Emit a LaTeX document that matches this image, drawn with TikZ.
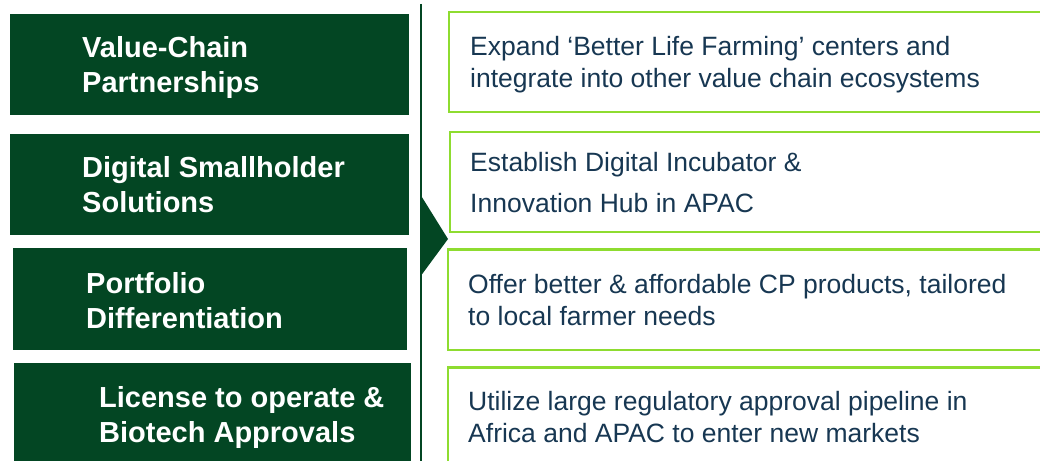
\documentclass[tikz,border=0pt]{standalone}
\usepackage{fontspec}
\setmainfont{Liberation Sans}
\usetikzlibrary{positioning}
\definecolor{darkgreen}{RGB}{3,70,35}
\definecolor{limegreen}{RGB}{142,220,48}
\definecolor{slateblue}{RGB}{23,55,82}

\begin{document}
\begin{tikzpicture}[x=1pt,y=-1pt,
  leftbox/.style={fill=darkgreen},
  rightbox/.style={draw=limegreen,line width=2.6pt},
  lefttext/.style={anchor=base west,align=left,inner sep=0pt,text=white,
    font=\fontsize{29}{35}\selectfont\bfseries},
  righttext/.style={anchor=base west,align=left,inner sep=0pt,text=slateblue,
    font=\fontsize{26.5}{32}\selectfont}]
  \useasboundingbox (0,0) rectangle (1040,460);
  % --- linke Spalte ---
  \fill[leftbox] (10,14) rectangle (409,115);
  \fill[leftbox] (10,134) rectangle (409,235);
  \fill[leftbox] (13,248) rectangle (407,350);
  \fill[leftbox] (14,363) rectangle (411,466);
  \node[lefttext] (l1) at (82,92) {Value-Chain\\Partnerships};
  \node[lefttext] (l2) at (82,212) {Digital Smallholder\\Solutions};
  \node[lefttext] (l3) at (86,328) {Portfolio\\Differentiation};
  \node[lefttext] (l4) at (99,442) {License to operate \&\\Biotech Approvals};
  % --- Trenner mit Pfeil ---
  \coordinate (top) at (421,4);
  \coordinate (bot) at (421,462);
  \draw[darkgreen,line width=2pt] (top) -- (bot);
  \fill[darkgreen] (420,194) -- (448,239) -- (420,277) -- cycle;
  % --- rechte Spalte ---
  \draw[rightbox] (1046,12) -| (449,112) -- (1046,112);
  \draw[rightbox] (1046,132) -| (450,232) -- (1046,232);
  \draw[rightbox] (1046,249.5) -| (448,350) -- (1046,350);
  \draw[rightbox] (1046,367.5) -| (448,466);
  \node[righttext] (r1) at (470,87.5) {Expand ‘Better Life Farming’ centers and\\integrate into other value chain ecosystems};
  \node[righttext,font=\fontsize{26.5}{41}\selectfont] (r2) at (470,212) {Establish Digital Incubator \&\\Innovation Hub in APAC};
  \node[righttext] (r3) at (468,325) {Offer better \& affordable CP products, tailored\\to local farmer needs};
  \node[righttext] (r4) at (468,442) {Utilize large regulatory approval pipeline in\\Africa and APAC to enter new markets};
\end{tikzpicture}
\end{document}
